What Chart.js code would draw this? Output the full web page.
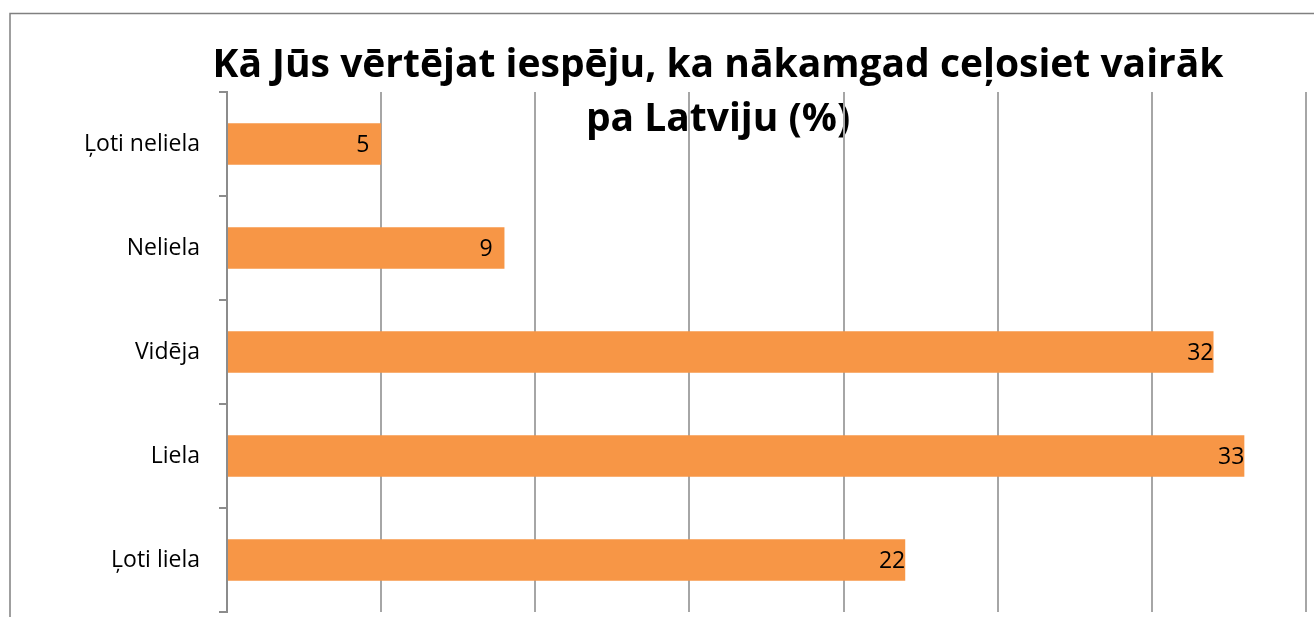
<!DOCTYPE html>
<html>
<head>
<meta charset="utf-8">
<script src="https://cdn.jsdelivr.net/npm/chart.js@4/dist/chart.umd.min.js"></script>
<style>
  html, body { margin: 0; padding: 0; background: #fff; }
  canvas { display: block; }
</style>
</head>
<body>
<canvas id="tripChart" width="1314" height="617"></canvas>
<script>
const categories = ["Ļoti neliela", "Neliela", "Vidēja", "Liela", "Ļoti liela"];
const shares = [5, 9, 32, 33, 22];
const valueMin = 0;
const valueMax = 35;
const valueStep = 5;
const titleLines = ["Kā Jūs vērtējat iespēju, ka nākamgad ceļosiet vairāk", "pa Latviju (%)"];

const labelFont = { family: "'Open Sans', sans-serif", size: 23 };
const axisGrey = "#8c8c8c";

// outer frame + title, drawn before the grid so the grid lines sit on top
const backdrop = {
  id: "backdrop",
  beforeDraw(chart) {
    const c = chart.ctx;
    c.save();
    c.fillStyle = "#000";
    c.font = "bold 39px 'Open Sans', sans-serif";
    c.textAlign = "center";
    c.textBaseline = "alphabetic";
    c.fillText(titleLines[0], 718, 77);
    c.fillText(titleLines[1], 718, 131);
    c.restore();
  },
  afterDraw(chart) {
    const c = chart.ctx;
    c.save();
    c.strokeStyle = "#808080";
    c.lineWidth = 1.5;
    c.strokeRect(10, 13.5, 1400, 700);
    c.restore();
  }
};

// value labels at the inside end of each bar
const barValues = {
  id: "barValues",
  afterDatasetsDraw(chart) {
    const c = chart.ctx;
    const meta = chart.getDatasetMeta(0);
    c.save();
    c.fillStyle = "#000";
    c.font = labelFont.size + "px " + labelFont.family;
    c.textAlign = "right";
    c.textBaseline = "middle";
    meta.data.forEach((bar, i) => {
      const txt = String(shares[i]);
      const w = c.measureText(txt).width;
      c.fillText(txt, bar.x - Math.max(0, 25 - w), bar.y + 1);
    });
    c.restore();
  }
};

new Chart(document.getElementById("tripChart"), {
  type: "bar",
  data: {
    labels: categories,
    datasets: [{
      data: shares,
      backgroundColor: "#f79646",
      borderWidth: 0,
      barPercentage: 0.4,
      categoryPercentage: 1
    }]
  },
  options: {
    indexAxis: "y",
    responsive: false,
    animation: false,
    layout: { padding: { top: 92, right: 8, bottom: 5, left: 0 } },
    plugins: {
      legend: { display: false },
      title: { display: false },
      tooltip: { enabled: false }
    },
    scales: {
      x: {
        min: valueMin,
        max: valueMax,
        ticks: { stepSize: valueStep, display: false },
        grid: { color: "#a6a6a6", lineWidth: 2, drawTicks: false },
        border: { display: false }
      },
      y: {
        afterFit(scale) {
          scale.width = 227;
          scale.paddingTop = 0;
          scale.paddingBottom = 0;
        },
        ticks: { font: labelFont, color: "#000", padding: 19, autoSkip: false },
        grid: { drawOnChartArea: false, offset: true, tickLength: 8, color: axisGrey, lineWidth: 2 },
        border: { color: axisGrey, width: 2 }
      }
    }
  },
  plugins: [backdrop, barValues]
});
</script>
</body>
</html>
